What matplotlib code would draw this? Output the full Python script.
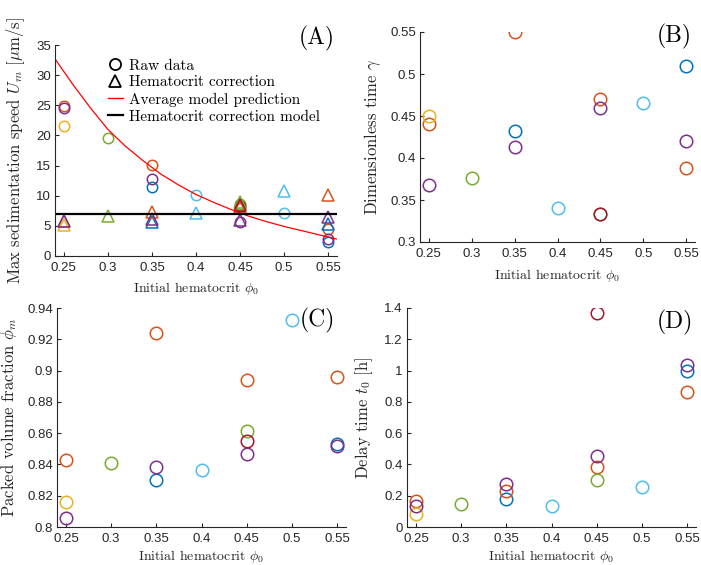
import numpy as np
import matplotlib
matplotlib.use('Agg')
import matplotlib.pyplot as plt
from matplotlib.lines import Line2D
from matplotlib.ticker import FuncFormatter

plt.rcParams['mathtext.fontset'] = 'cm'
plt.rcParams['font.family'] = ['Liberation Sans', 'DejaVu Sans']
plt.rcParams['axes.unicode_minus'] = False

# sample colours (matlab default order)
colors = {
    'blue': '#0072BD',
    'orange': '#D95319',
    'yellow': '#EDB120',
    'purple': '#7E2F8E',
    'green': '#77AC30',
    'lightblue': '#4DBEEE',
    'darkred': '#A2142F',
}

# initial hematocrit of each sample
phi_blue = [0.35, 0.55]
phi_orange = [0.25, 0.35, 0.45, 0.55]
phi_yellow = [0.25]
phi_purple = [0.25, 0.35, 0.45, 0.55]
phi_green = [0.30, 0.45]
phi_lightblue = [0.40, 0.50]
phi_darkred = [0.45]

# (A) max sedimentation speed, raw data
U_raw_blue = [11.4, 2.35]
U_raw_orange = [24.8, 15.1, 7.9, 4.4]
U_raw_yellow = [21.6]
U_raw_purple = [24.5, 12.7, 5.7, 2.8]
U_raw_green = [19.6, 8.6]
U_raw_lightblue = [10.1, 7.1]
U_raw_darkred = [8.3]

# (A) hematocrit corrected
U_cor_blue = [5.6, 5.3]
U_cor_orange = [5.8, 7.3, 8.2, 10.2]
U_cor_yellow = [5.1]
U_cor_purple = [5.85, 6.1, 6.0, 6.5]
U_cor_green = [6.7, 8.9]
U_cor_lightblue = [7.2, 10.8]
U_cor_darkred = [8.5]

# (A) model curves
phi_model = [0.24, 0.26, 0.28, 0.30, 0.32, 0.34, 0.36, 0.38, 0.40,
             0.42, 0.44, 0.46, 0.48, 0.50, 0.52, 0.54, 0.56]
U_model = [32.7, 28.5, 24.6, 21.0, 18.2, 15.8, 13.6, 11.8, 10.2,
           8.9, 7.7, 6.6, 5.7, 4.9, 4.2, 3.5, 2.8]
U_hct_model = 7.0

# (B) dimensionless time gamma
g_blue = [0.432, 0.510]
g_orange = [0.440, 0.550, 0.470, 0.388]
g_yellow = [0.450]
g_purple = [0.368, 0.413, 0.459, 0.420]
g_green = [0.376, 0.333]
g_lightblue = [0.340, 0.466]
g_darkred = [0.333]

# (C) packed volume fraction
pm_blue = [0.8303, 0.8528]
pm_orange = [0.843, 0.9242, 0.8942, 0.8961]
pm_yellow = [0.8162]
pm_purple = [0.806, 0.8384, 0.8469, 0.8520]
pm_green = [0.8407, 0.8616]
pm_lightblue = [0.8362, 0.9325]
pm_darkred = [0.8552]

# (D) delay time [h]
t0_blue = [0.179, 0.995]
t0_orange = [0.166, 0.230, 0.386, 0.861]
t0_yellow = [0.085]
t0_purple = [0.136, 0.277, 0.454, 1.033]
t0_green = [0.145, 0.303]
t0_lightblue = [0.132, 0.254]
t0_darkred = [1.370]

names = ['blue', 'orange', 'yellow', 'purple', 'green', 'lightblue', 'darkred']
phis = [phi_blue, phi_orange, phi_yellow, phi_purple, phi_green, phi_lightblue, phi_darkred]
U_raw = [U_raw_blue, U_raw_orange, U_raw_yellow, U_raw_purple, U_raw_green, U_raw_lightblue, U_raw_darkred]
U_cor = [U_cor_blue, U_cor_orange, U_cor_yellow, U_cor_purple, U_cor_green, U_cor_lightblue, U_cor_darkred]
gam = [g_blue, g_orange, g_yellow, g_purple, g_green, g_lightblue, g_darkred]
pm = [pm_blue, pm_orange, pm_yellow, pm_purple, pm_green, pm_lightblue, pm_darkred]
t0 = [t0_blue, t0_orange, t0_yellow, t0_purple, t0_green, t0_lightblue, t0_darkred]

x_ticks = [0.25, 0.30, 0.35, 0.40, 0.45, 0.50, 0.55]

XLBL = 10
YLBL = 12
TICK = 9.5
CM = 'cmr10'
AXC = '#262626'

fig = plt.figure(figsize=(7.01, 5.65), dpi=100)
W, H = 701, 565


def add_ax(l, r, b, t):
    return fig.add_axes([l / W, 1 - b / H, (r - l) / W, (b - t) / H])


def style(ax, ylim, yticks, ylab, ylab_x, xlab_y, tag, tag_xy):
    ax.set_xlim(0.24, 0.56)
    ax.set_ylim(*ylim)
    ax.set_xticks(x_ticks)
    ax.set_yticks(yticks)
    fmt = FuncFormatter(lambda v, p: ('%.2f' % v).rstrip('0').rstrip('.'))
    ax.xaxis.set_major_formatter(fmt)
    ax.yaxis.set_major_formatter(fmt)
    for s in ['top', 'right']:
        ax.spines[s].set_visible(False)
    for s in ['left', 'bottom']:
        ax.spines[s].set_color(AXC)
        ax.spines[s].set_linewidth(0.8)
    ax.tick_params(direction='in', length=3, width=0.8, colors=AXC,
                   labelsize=TICK)
    ax.tick_params(axis='x', pad=4)
    ax.tick_params(axis='y', pad=3)
    ax.set_xlabel(r'Initial hematocrit $\phi_0$', fontfamily=CM, fontsize=XLBL, color=AXC)
    ax.xaxis.set_label_coords(0.5, xlab_y)
    ax.set_ylabel(ylab, fontfamily=CM, fontsize=YLBL, color=AXC)
    ax.yaxis.set_label_coords(ylab_x, 0.5)
    ax.text(tag_xy[0], tag_xy[1], tag, transform=ax.transAxes, ha='right',
            va='center', fontfamily=CM, fontsize=17, color='black')


def scatter(ax, ys, marker='o', ms=9):
    for name, xs, yv in zip(names, phis, ys):
        ax.plot(xs, yv, linestyle='none', marker=marker, ms=ms, mfc='none',
                mec=colors[name], mew=1.1)


# (A)
axA = add_ax(55, 337, 256, 45)
scatter(axA, U_raw, 'o', 7.5)
scatter(axA, U_cor, '^', 8)
axA.plot(phi_model, U_model, color='red', lw=0.9)
axA.axhline(U_hct_model, color='black', lw=1.6)
style(axA, (0, 35), range(0, 36, 5),
      r'Max sedimentation speed $U_m$ [$\mu$m/s]', -0.1, -0.115, '(A)', (0.993, 1.033))
handles = [
    Line2D([], [], ls='none', marker='o', ms=8, mfc='none', mec='black', mew=1.3),
    Line2D([], [], ls='none', marker='^', ms=9, mfc='none', mec='black', mew=1.3),
    Line2D([], [], color='red', lw=1.0),
    Line2D([], [], color='black', lw=1.6),
]
labels = ['Raw data', 'Hematocrit correction', 'Average model prediction',
          'Hematocrit correction model']
axA.legend(handles, labels, loc='upper left', bbox_to_anchor=(0.16, 0.97),
           frameon=False, borderpad=0, handlelength=1.0, handletextpad=0.4,
           labelspacing=0.2, prop={'family': CM, 'size': 11})

# (B)
axB = add_ax(420, 695, 242, 32)
scatter(axB, gam)
style(axB, (0.3, 0.55), [0.3, 0.35, 0.4, 0.45, 0.5, 0.55],
      r'Dimensionless time $\gamma$', -0.135, -0.117, '(B)', (0.989, 0.981))

# (C)
axC = add_ax(57, 346, 527, 308)
scatter(axC, pm)
style(axC, (0.8, 0.94), [0.8, 0.82, 0.84, 0.86, 0.88, 0.9, 0.92, 0.94],
      r'Packed volume fraction $\phi_m$', -0.13, -0.097, '(C)', (0.962, 0.941))

# (D)
axD = add_ax(407, 696, 527, 308)
scatter(axD, t0)
style(axD, (0, 1.4), [0, 0.2, 0.4, 0.6, 0.8, 1.0, 1.2, 1.4],
      r'Delay time $t_0$ [h]', -0.111, -0.097, '(D)', (0.99, 0.936))

fig.savefig('out.png', dpi=100)
